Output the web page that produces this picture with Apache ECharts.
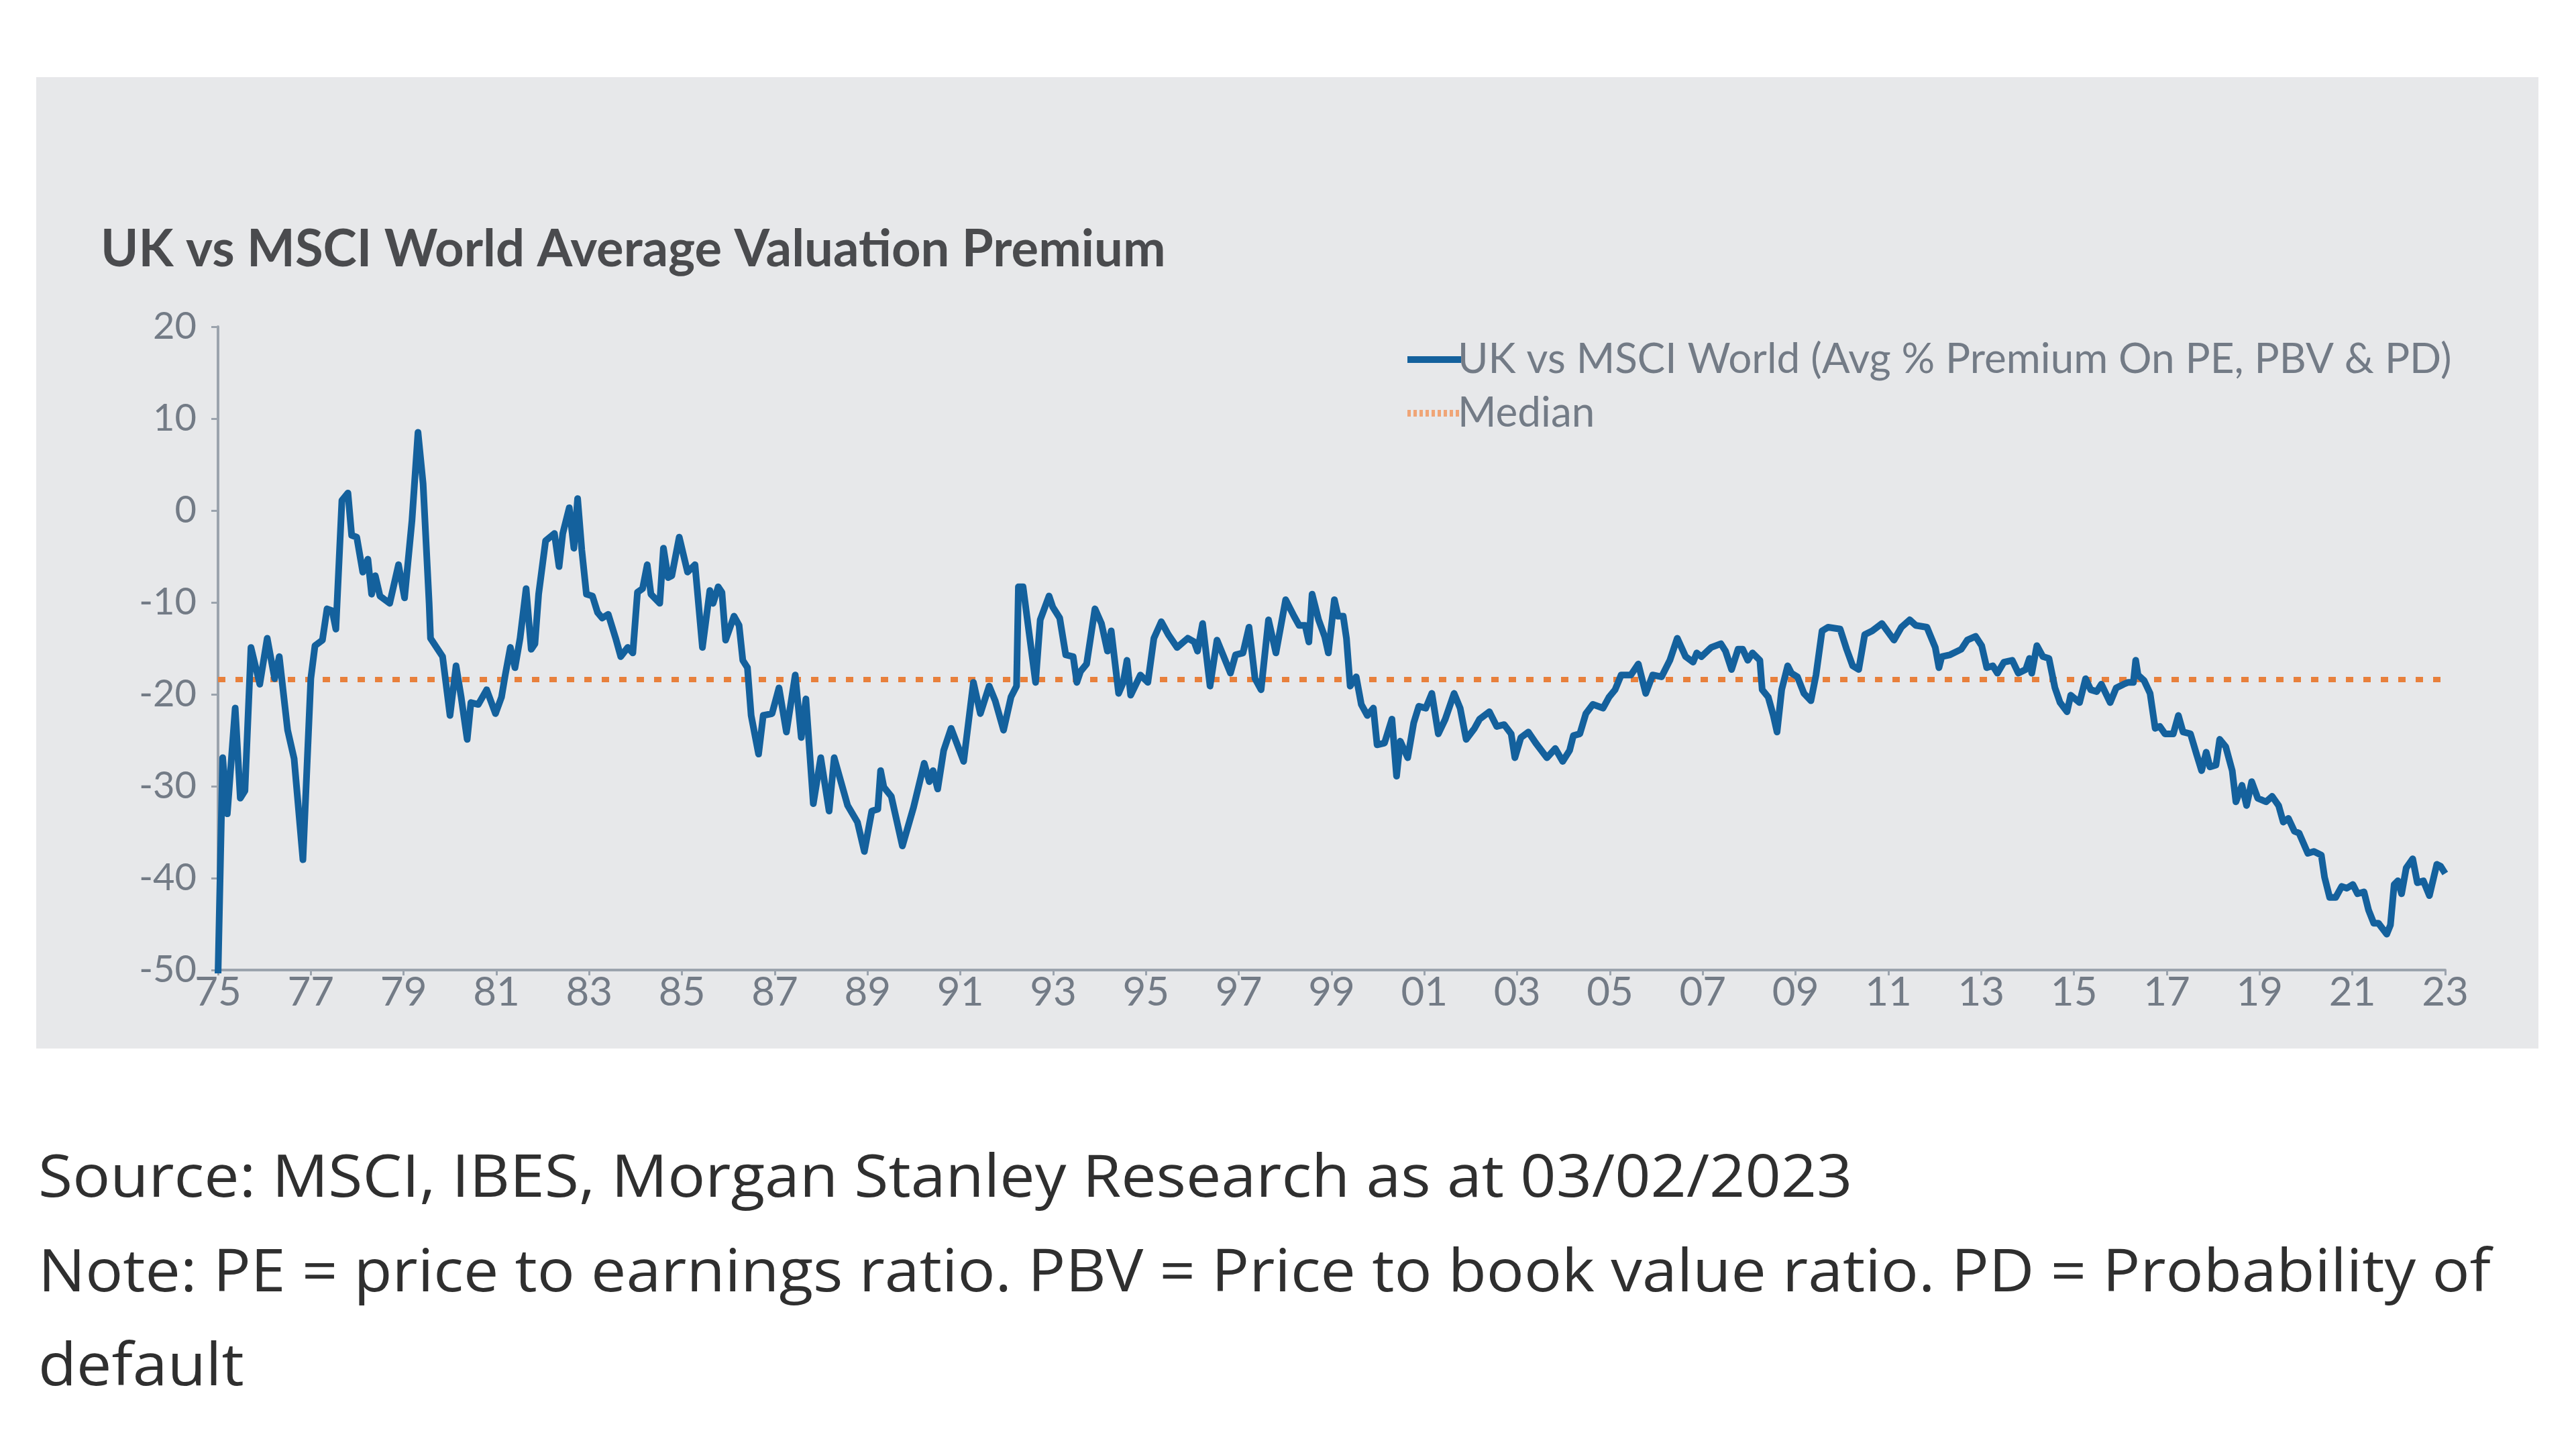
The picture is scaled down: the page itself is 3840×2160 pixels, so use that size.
<!DOCTYPE html>
<html>
<head>
<meta charset="utf-8">
<title>UK vs MSCI World Average Valuation Premium</title>
<script src="https://cdn.jsdelivr.net/npm/echarts@6/dist/echarts.min.js"></script>
<style>
  html, body { margin: 0; padding: 0; background: #ffffff; }
  #chart { width: 3840px; height: 2160px; }
</style>
</head>
<body>
<div id="chart"></div>
<script>
// dates as decimal years
let dates = [
  1975.00, 1975.10, 1975.20, 1975.37, 1975.48, 1975.58, 1975.71, 1975.90, 1976.06, 1976.22,
  1976.32, 1976.50, 1976.64, 1976.83, 1977.00, 1977.09, 1977.25, 1977.35, 1977.46, 1977.54,
  1977.67, 1977.80, 1977.88, 1977.99, 1978.12, 1978.23, 1978.31, 1978.39, 1978.49, 1978.70,
  1978.89, 1979.02, 1979.18, 1979.31, 1979.42, 1979.55, 1979.58, 1979.84, 1980.00, 1980.13,
  1980.24, 1980.37, 1980.45, 1980.61, 1980.79, 1980.98, 1981.11, 1981.19, 1981.30, 1981.40,
  1981.51, 1981.64, 1981.75, 1981.83, 1981.91, 1982.06, 1982.25, 1982.35, 1982.43, 1982.57,
  1982.67, 1982.75, 1982.84, 1982.94, 1983.07, 1983.18, 1983.28, 1983.41, 1983.57, 1983.68,
  1983.83, 1983.94, 1984.04, 1984.15, 1984.25, 1984.33, 1984.52, 1984.60, 1984.70, 1984.78,
  1984.94, 1985.12, 1985.28, 1985.44, 1985.60, 1985.67, 1985.78, 1985.86, 1985.94, 1986.12,
  1986.23, 1986.31, 1986.41, 1986.49, 1986.65, 1986.75, 1986.94, 1987.09, 1987.25, 1987.44,
  1987.57, 1987.67, 1987.83, 1987.99, 1988.17, 1988.28, 1988.57, 1988.78, 1988.93, 1989.09,
  1989.22, 1989.28, 1989.35, 1989.51, 1989.75, 1989.99, 1990.22, 1990.33, 1990.41, 1990.51,
  1990.64, 1990.80, 1991.07, 1991.28, 1991.43, 1991.62, 1991.75, 1991.93, 1992.09, 1992.21,
  1992.25, 1992.35, 1992.62, 1992.72, 1992.91, 1992.99, 1993.14, 1993.27, 1993.43, 1993.51,
  1993.59, 1993.72, 1993.90, 1994.04, 1994.17, 1994.25, 1994.41, 1994.51, 1994.59, 1994.67,
  1994.88, 1995.04, 1995.17, 1995.33, 1995.48, 1995.67, 1995.90, 1996.04, 1996.11, 1996.22,
  1996.38, 1996.53, 1996.82, 1996.93, 1997.09, 1997.22, 1997.35, 1997.48, 1997.64, 1997.80,
  1998.01, 1998.19, 1998.30, 1998.43, 1998.51, 1998.58, 1998.72, 1998.85, 1998.93, 1999.06,
  1999.14, 1999.25, 1999.32, 1999.40, 1999.53, 1999.64, 1999.77, 1999.90, 1999.98, 2000.14,
  2000.30, 2000.40, 2000.48, 2000.64, 2000.77, 2000.88, 2001.03, 2001.16, 2001.30, 2001.45,
  2001.64, 2001.77, 2001.90, 2002.08, 2002.19, 2002.40, 2002.56, 2002.72, 2002.87, 2002.95,
  2003.08, 2003.24, 2003.40, 2003.64, 2003.82, 2003.98, 2004.13, 2004.21, 2004.35, 2004.48,
  2004.63, 2004.85, 2004.98, 2005.11, 2005.24, 2005.45, 2005.61, 2005.77, 2005.92, 2006.11,
  2006.29, 2006.45, 2006.63, 2006.79, 2006.87, 2006.97, 2007.18, 2007.39, 2007.49, 2007.62,
  2007.76, 2007.86, 2007.97, 2008.07, 2008.23, 2008.28, 2008.41, 2008.52, 2008.60, 2008.70,
  2008.83, 2008.91, 2009.04, 2009.18, 2009.33, 2009.44, 2009.57, 2009.70, 2009.96, 2010.10,
  2010.23, 2010.36, 2010.49, 2010.65, 2010.86, 2011.12, 2011.28, 2011.46, 2011.59, 2011.83,
  2012.01, 2012.09, 2012.15, 2012.33, 2012.57, 2012.70, 2012.88, 2013.01, 2013.12, 2013.25,
  2013.35, 2013.49, 2013.67, 2013.80, 2013.96, 2014.04, 2014.09, 2014.20, 2014.33, 2014.46,
  2014.59, 2014.70, 2014.85, 2014.93, 2015.12, 2015.25, 2015.36, 2015.49, 2015.59, 2015.78,
  2015.91, 2016.07, 2016.17, 2016.28, 2016.33, 2016.38, 2016.51, 2016.64, 2016.75, 2016.85,
  2016.96, 2017.14, 2017.25, 2017.35, 2017.51, 2017.64, 2017.75, 2017.85, 2017.93, 2018.06,
  2018.14, 2018.27, 2018.41, 2018.49, 2018.62, 2018.72, 2018.83, 2018.96, 2019.14, 2019.27,
  2019.41, 2019.51, 2019.62, 2019.75, 2019.85, 2020.04, 2020.17, 2020.33, 2020.40, 2020.51,
  2020.64, 2020.77, 2020.88, 2021.01, 2021.11, 2021.25, 2021.35, 2021.46, 2021.56, 2021.74,
  2021.82, 2021.90, 2021.98, 2022.06, 2022.16, 2022.30, 2022.40, 2022.53, 2022.66, 2022.82,
  2022.90, 2023.00
];
let premium = [
  -50.5, -26.9, -33.0, -21.5, -31.3, -30.5, -14.9, -18.9, -13.9, -18.3,
  -15.9, -23.9, -27.0, -38.0, -18.3, -14.7, -14.1, -10.7, -10.9, -12.9,
  1.1, 1.9, -2.7, -2.9, -6.7, -5.3, -9.1, -7.1, -9.3, -10.1,
  -5.9, -9.5, -1.1, 8.5, 2.9, -10.1, -13.9, -15.9, -22.3, -16.9,
  -20.3, -24.9, -20.9, -21.1, -19.5, -22.1, -20.3, -17.9, -14.9, -17.1,
  -13.9, -8.5, -15.1, -14.5, -9.1, -3.3, -2.5, -6.1, -2.5, 0.3,
  -4.1, 1.3, -4.3, -9.1, -9.3, -11.1, -11.7, -11.3, -13.9, -15.9,
  -14.9, -15.5, -8.9, -8.5, -5.9, -9.1, -10.1, -4.1, -7.3, -7.1,
  -2.9, -6.7, -5.9, -14.9, -8.7, -10.1, -8.3, -8.9, -14.1, -11.5,
  -12.5, -16.3, -17.1, -22.3, -26.5, -22.3, -22.1, -19.3, -24.1, -17.9,
  -24.7, -20.5, -31.9, -26.9, -32.7, -26.9, -32.1, -33.9, -37.1, -32.7,
  -32.5, -28.3, -30.1, -31.1, -36.5, -32.3, -27.5, -29.5, -28.3, -30.3,
  -26.1, -23.7, -27.3, -18.7, -22.1, -19.1, -20.7, -23.9, -20.3, -19.1,
  -8.3, -8.3, -18.7, -11.9, -9.3, -10.5, -11.7, -15.7, -15.9, -18.7,
  -17.5, -16.7, -10.7, -12.3, -15.3, -13.1, -19.9, -18.7, -16.3, -20.1,
  -17.9, -18.7, -13.9, -12.1, -13.5, -14.9, -13.9, -14.3, -15.3, -12.3,
  -19.1, -14.1, -17.7, -15.7, -15.5, -12.7, -18.3, -19.5, -11.9, -15.5,
  -9.7, -11.5, -12.5, -12.5, -14.3, -9.1, -11.9, -13.7, -15.5, -9.7,
  -11.5, -11.5, -13.9, -19.1, -18.1, -21.1, -22.3, -21.5, -25.5, -25.3,
  -22.7, -28.9, -25.1, -26.9, -23.1, -21.3, -21.5, -19.9, -24.3, -22.7,
  -19.9, -21.5, -24.9, -23.7, -22.7, -21.9, -23.5, -23.3, -24.3, -26.9,
  -24.7, -24.1, -25.3, -26.9, -25.9, -27.3, -26.1, -24.5, -24.3, -22.1,
  -21.1, -21.5, -20.3, -19.5, -17.9, -17.9, -16.7, -19.9, -17.9, -18.1,
  -16.3, -13.9, -15.9, -16.5, -15.5, -15.9, -14.9, -14.5, -15.3, -17.3,
  -15.1, -15.1, -16.3, -15.5, -16.3, -19.5, -20.3, -22.3, -24.1, -19.5,
  -16.9, -17.7, -18.1, -19.9, -20.7, -17.9, -13.1, -12.7, -12.9, -15.1,
  -16.9, -17.3, -13.5, -13.1, -12.3, -14.1, -12.7, -11.9, -12.5, -12.7,
  -14.9, -17.1, -15.9, -15.7, -15.1, -14.1, -13.7, -14.7, -17.1, -16.9,
  -17.7, -16.5, -16.3, -17.7, -17.3, -16.1, -17.7, -14.7, -15.9, -16.1,
  -19.3, -20.9, -21.9, -20.1, -20.9, -18.3, -19.5, -19.7, -18.9, -20.9,
  -19.3, -18.9, -18.7, -18.7, -16.3, -17.9, -18.5, -19.9, -23.7, -23.5,
  -24.3, -24.3, -22.3, -24.1, -24.3, -26.5, -28.3, -26.3, -27.9, -27.7,
  -24.9, -25.7, -28.3, -31.7, -29.9, -32.1, -29.5, -31.3, -31.7, -31.1,
  -32.1, -33.9, -33.5, -34.9, -35.1, -37.3, -37.1, -37.5, -39.9, -42.1,
  -42.1, -40.9, -41.1, -40.7, -41.7, -41.5, -43.5, -44.9, -44.9, -46.1,
  -45.1, -40.7, -40.3, -41.7, -38.9, -37.9, -40.5, -40.3, -41.9, -38.5,
  -38.7, -39.5
];
let medianValue = -18.4;
let yearStart = 1975;
let yearEnd = 2023;
let yTicks = [-50, -40, -30, -20, -10, 0, 10, 20];

let seriesName = "UK vs MSCI World (Avg % Premium On PE, PBV & PD)";
let medianName = "Median";

let labelGray = "#737b86";
let lineBlue = "#14619d";
let medianOrange = "#e8803c";

// legend icons: a solid bar and a row of short dashes
let solidIcon = "path://M0,0h80v10h-80z";
let dottedIcon = "path://M0,0h5v10h-5z M9,0h5v10h-5z M18,0h5v10h-5z M27,0h5v10h-5z M36,0h5v10h-5z " +
  "M45,0h5v10h-5z M54,0h5v10h-5z M63,0h5v10h-5z M72,0h5v10h-5z M80,0h0v10h0z";

let myChart = echarts.init(document.getElementById("chart"));
let option = {
  animation: false,
  title: {
    text: "UK vs MSCI World Average Valuation Premium",
    left: 145,
    top: 329,
    textStyle: {
      fontFamily: "Lato",
      fontWeight: "bold",
      fontSize: 76,
      color: "#4a4b4e"
    }
  },
  legend: {
    orient: "vertical",
    left: 2093,
    top: 500,
    itemWidth: 80,
    itemHeight: 10,
    itemGap: 18,
    data: [
      { name: seriesName, icon: solidIcon, itemStyle: { color: lineBlue } },
      { name: medianName, icon: dottedIcon, itemStyle: { color: "#f0a577" } }
    ],
    textStyle: {
      fontFamily: "Lato",
      fontSize: 62,
      lineHeight: 62,
      color: labelGray,
      padding: [0, 0, 0, -10]
    }
  },
  grid: {
    left: 325,
    right: 195,
    top: 487,
    bottom: 714
  },
  xAxis: [
    {
      type: "value",
      min: yearStart,
      max: yearEnd,
      interval: 2,
      position: "bottom",
      axisLine: { show: false },
      axisTick: { show: false },
      splitLine: { show: false },
      axisLabel: {
        margin: 4,
        fontFamily: "Lato",
        fontSize: 60,
        color: labelGray,
        formatter: function (v) {
          return String(v % 100).padStart(2, "0");
        }
      }
    },
    {
      // zero line with the small year ticks
      type: "value",
      min: yearStart,
      max: yearEnd,
      interval: 2,
      position: "bottom",
      axisLine: { show: true, onZero: true, lineStyle: { color: "#9ba3ad", width: 4 } },
      axisTick: { show: true, length: 8, lineStyle: { color: "#9ba3ad", width: 3 } },
      axisLabel: { show: false },
      splitLine: { show: false }
    }
  ],
  yAxis: {
    type: "value",
    min: yTicks[0],
    max: yTicks[yTicks.length - 1],
    interval: 10,
    axisLine: { show: true, lineStyle: { color: "#9ba3ad", width: 4 } },
    axisTick: { show: true, length: 10, lineStyle: { color: "#9ba3ad", width: 3 } },
    splitLine: { show: false },
    axisLabel: {
      margin: 32,
      fontFamily: "Lato",
      fontSize: 56,
      color: labelGray
    }
  },
  series: [
    {
      name: seriesName,
      type: "line",
      xAxisIndex: 0,
      symbol: "none",
      data: dates.map(function (d, i) { return [d, premium[i]]; }),
      lineStyle: { color: lineBlue, width: 10, join: "round" },
      itemStyle: { color: lineBlue },
      z: 3
    },
    {
      name: medianName,
      type: "line",
      xAxisIndex: 0,
      symbol: "none",
      data: [[yearStart, medianValue], [yearEnd, medianValue]],
      lineStyle: { color: medianOrange, width: 8, type: [11, 15] },
      itemStyle: { color: medianOrange },
      z: 2
    }
  ],
  graphic: [
    {
      type: "rect",
      z: -10,
      shape: { x: 54, y: 115, width: 3730, height: 1448 },
      style: { fill: "#e7e8ea" }
    },
    {
      type: "text",
      x: 57,
      y: 1759,
      scaleX: 1.06,
      style: {
        text: "Source: MSCI, IBES, Morgan Stanley Research as at 03/02/2023",
        font: "88px 'Open Sans'",
        fill: "#2f2f2f",
        verticalAlign: "middle"
      }
    },
    {
      type: "text",
      x: 57,
      y: 1900,
      scaleX: 1.06,
      style: {
        text: "Note: PE = price to earnings ratio. PBV = Price to book value ratio. PD = Probability of",
        font: "88px 'Open Sans'",
        fill: "#2f2f2f",
        verticalAlign: "middle"
      }
    },
    {
      type: "text",
      x: 57,
      y: 2040,
      scaleX: 1.06,
      style: {
        text: "default",
        font: "88px 'Open Sans'",
        fill: "#2f2f2f",
        verticalAlign: "middle"
      }
    }
  ]
};
myChart.setOption(option);
</script>
</body>
</html>
